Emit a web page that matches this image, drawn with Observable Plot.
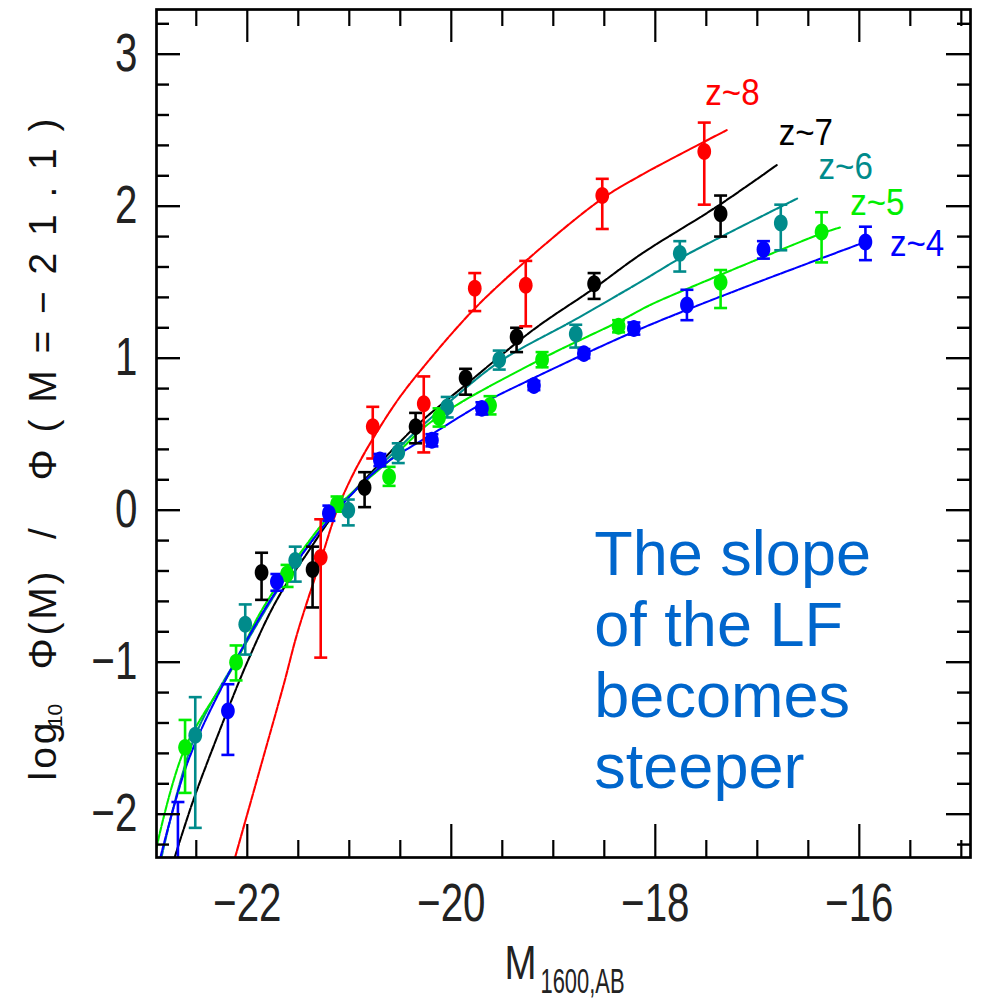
<!DOCTYPE html>
<html><head><meta charset="utf-8">
<script src="https://cdn.jsdelivr.net/npm/d3@7"></script>
<script src="https://cdn.jsdelivr.net/npm/@observablehq/plot@0.6"></script>
<style>body{margin:0;background:#fff} svg{display:block}</style>
</head><body><div id="chart"></div>
<script>
// ---- axis ticks ----
const xMajor = [-22, -20, -18, -16];
const xMinor = [-22.5, -21.5, -21, -20.5, -19.5, -19, -18.5, -17.5, -17, -16.5, -15.5, -15];
const yMajor = [-2, -1, 0, 1, 2, 3];
const yMinor = [-2.2, -1.8, -1.6, -1.4, -1.2, -0.8, -0.6, -0.4, -0.2, 0.2, 0.4, 0.6, 0.8,
                1.2, 1.4, 1.6, 1.8, 2.2, 2.4, 2.6, 2.8, 3.2];

// ---- series ----
const series = ["z~8", "z~7", "z~6", "z~5", "z~4"];
const colors = ["#ff0000", "#000000", "#008b8b", "#00ee00", "#0000ff"];

// points: [M, log phi ratio, lower, upper]
const z8Points = [[-21.28,-0.31,-0.97,-0.06],[-20.77,0.55,0.34,0.68],[-20.27,0.70,0.38,0.88],
  [-19.77,1.46,1.31,1.56],[-19.27,1.48,1.21,1.64],[-18.52,2.07,1.85,2.18],[-17.52,2.36,2.01,2.55]];
const z7Points = [[-21.86,-0.41,-0.59,-0.28],[-21.36,-0.39,-0.64,-0.24],[-20.85,0.15,0.02,0.25],
  [-20.35,0.55,0.44,0.64],[-19.86,0.87,0.76,0.93],[-19.36,1.14,1.04,1.20],[-18.60,1.49,1.39,1.56],
  [-17.36,1.95,1.80,2.07]];
const z6Points = [[-22.51,-1.48,-2.09,-1.23],[-22.02,-0.75,-0.95,-0.62],[-21.53,-0.33,-0.47,-0.24],
  [-21.01,0.0,-0.10,0.07],[-20.52,0.38,0.31,0.44],[-20.04,0.68,0.61,0.745],[-19.53,0.99,0.925,1.05],
  [-18.78,1.16,1.07,1.22],[-17.76,1.69,1.57,1.77],[-16.77,1.89,1.71,2.01]];
const z5Points = [[-22.61,-1.56,-1.86,-1.38],[-22.11,-1.0,-1.12,-0.89],[-21.61,-0.42,-0.505,-0.36],
  [-21.12,0.04,-0.01,0.09],[-20.61,0.22,0.16,0.285],[-20.12,0.61,0.55,0.67],[-19.62,0.69,0.63,0.75],
  [-19.11,0.99,0.94,1.04],[-18.36,1.21,1.17,1.25],[-17.36,1.50,1.33,1.58],[-16.37,1.83,1.63,1.96]];
const z4Points = [[-22.68,-2.45,-3.0,-1.92],[-22.19,-1.32,-1.61,-1.145],[-21.71,-0.47,-0.53,-0.42],
  [-21.20,-0.02,-0.07,0.03],[-20.70,0.33,0.29,0.37],[-20.19,0.46,0.42,0.50],[-19.70,0.67,0.63,0.71],
  [-19.19,0.82,0.79,0.85],[-18.70,1.03,1.0,1.06],[-18.21,1.195,1.155,1.235],[-17.69,1.35,1.25,1.45],
  [-16.94,1.715,1.655,1.77],[-15.94,1.765,1.645,1.865]];

// fitted curves: [M, value]
const z8Curve = [[-22.12,-2.285],[-21.87,-1.69],[-21.64,-1.14],[-21.51,-0.81],[-21.28,-0.33],[-21.12,0.0],
  [-20.96,0.24],[-20.76,0.48],[-20.53,0.72],[-20.30,0.92],[-19.78,1.32],[-19.26,1.645],[-18.54,2.04],
  [-18.15,2.20],[-17.30,2.50]];
const z7Curve = [[-22.71,-2.28],[-22.53,-1.91],[-22.30,-1.50],[-22.0,-1.0],[-21.71,-0.59],[-21.40,-0.27],
  [-21.12,0.0],[-20.85,0.2],[-20.35,0.55],[-19.85,0.83],[-19.19,1.19],[-18.60,1.46],[-18.15,1.68],
  [-17.39,2.0],[-16.81,2.27]];
const z6Curve = [[-22.84,-2.28],[-22.52,-1.5],[-22.06,-0.93],[-21.55,-0.37],[-21.12,0.0],[-20.5,0.42],
  [-20.04,0.70],[-19.52,0.98],[-18.77,1.26],[-18.1,1.52],[-17.75,1.66],[-16.61,2.05]];
const z5Curve = [[-22.89,-2.22],[-22.62,-1.58],[-22.13,-1.02],[-21.86,-0.66],[-21.50,-0.30],[-21.12,0.02],
  [-20.6,0.33],[-20.18,0.59],[-19.13,0.99],[-18.36,1.24],[-18.05,1.35],[-17.72,1.447],[-16.37,1.82],
  [-16.19,1.86]];
const z4Curve = [[-22.85,-2.28],[-22.58,-1.65],[-22.2,-1.1],[-21.8,-0.62],[-21.45,-0.28],[-21.12,0.0],
  [-20.7,0.28],[-20.19,0.5],[-19.7,0.7],[-19.19,0.87],[-18.54,1.075],[-18.05,1.22],[-17.2,1.447],
  [-15.94,1.765]];

// label anchors for each series: [M, value]
const labelPos = [[-17.51,2.74],[-16.79,2.48],[-16.40,2.257],[-16.09,2.016],[-15.70,1.75]];

const annotation = "The slope\nof the LF\nbecomes\nsteeper";
const annotationPos = [-18.598, -0.094];

// ---- build tables ----
const allPoints = [z8Points, z7Points, z6Points, z5Points, z4Points];
const allCurves = [z8Curve, z7Curve, z6Curve, z5Curve, z4Curve];
const points = allPoints.flatMap((arr, i) => arr.map(([M, v, lo, hi]) => ({series: series[i], M, v, lo, hi})));
const curves = allCurves.flatMap((arr, i) => arr.map(([M, v]) => ({series: series[i], M, v})));
const labels = labelPos.map(([M, v], i) => ({series: series[i], M, v}));

const W = 981, H = 999, mL = 156, mR = 11, mT = 9, mB = 142;
const innerW = W - mL - mR, innerH = H - mT - mB;

const capSymbol = {draw(ctx, size) { const r = Math.sqrt(size / Math.PI); ctx.moveTo(-r, 0); ctx.lineTo(r, 0); }};
const ellipseSymbol = {draw(ctx, size) {
  const r = Math.sqrt(size / Math.PI), a = r * 0.88, b = r * 1.08, k = 0.5523;
  ctx.moveTo(a, 0);
  ctx.bezierCurveTo(a, b * k, a * k, b, 0, b);
  ctx.bezierCurveTo(-a * k, b, -a, b * k, -a, 0);
  ctx.bezierCurveTo(-a, -b * k, -a * k, -b, 0, -b);
  ctx.bezierCurveTo(a * k, -b, a, -b * k, a, 0);
  ctx.closePath();
}};

const font = "Liberation Sans, Arial, sans-serif";
const yTitle = {frameAnchor: "left", text: d => d, rotate: -90, textAnchor: "middle", lineAnchor: "middle", fill: "#111"};

const plot = Plot.plot({
  width: W, height: H,
  marginLeft: mL, marginRight: mR, marginTop: mT, marginBottom: mB,
  style: {fontFamily: font, background: "#fff", color: "#000"},
  x: {domain: [-22.89, -14.91]},
  y: {domain: [-2.285, 3.294]},
  color: {domain: series, range: colors},
  marks: [
    // curves
    Plot.line(curves, {x: "M", y: "v", z: "series", stroke: "series", strokeWidth: 2.1,
      strokeDasharray: "6,1.5", curve: "catmull-rom", clip: true}),
    // error bars
    Plot.ruleX(points, {x: "M", y1: "lo", y2: "hi", stroke: "series", strokeWidth: 2.6, clip: true}),
    Plot.dot(points, {x: "M", y: "hi", symbol: capSymbol, r: 6.5, stroke: "series", strokeWidth: 2.6, fill: "none", clip: true}),
    Plot.dot(points, {x: "M", y: "lo", symbol: capSymbol, r: 6.5, stroke: "series", strokeWidth: 2.6, fill: "none", clip: true}),
    // points
    Plot.dot(points, {x: "M", y: "v", symbol: ellipseSymbol, r: 7.8, fill: "series", stroke: "none", clip: true}),
    // series labels
    Plot.text(labels, {x: "M", y: "v", text: "series", fill: "series", fontSize: 36, textAnchor: "start",
      lineAnchor: "middle"}),
    // annotation
    Plot.text([annotation], {x: annotationPos[0], y: annotationPos[1], text: d => d, fill: "#0066cc",
      fontSize: 63, lineHeight: 1.127, textAnchor: "start", lineAnchor: "top", fontFamily: font}),
    // frame
    Plot.frame({stroke: "#000", strokeWidth: 2.7}),
    // ticks: bottom & top
    Plot.tickX(xMajor, {x: d => d, insetTop: innerH - 33, strokeWidth: 2.2}),
    Plot.tickX(xMajor, {x: d => d, insetBottom: innerH - 33, strokeWidth: 2.2}),
    Plot.tickX(xMinor, {x: d => d, insetTop: innerH - 17, strokeWidth: 2.2}),
    Plot.tickX(xMinor, {x: d => d, insetBottom: innerH - 17, strokeWidth: 2.2}),
    // ticks: left & right
    Plot.tickY(yMajor, {y: d => d, insetRight: innerW - 24, strokeWidth: 2.4}),
    Plot.tickY(yMajor, {y: d => d, insetLeft: innerW - 24, strokeWidth: 2.4}),
    Plot.tickY(yMinor, {y: d => d, insetRight: innerW - 13, strokeWidth: 2.4}),
    Plot.tickY(yMinor, {y: d => d, insetLeft: innerW - 13, strokeWidth: 2.4}),
    // tick labels
    Plot.axisX(xMajor, {anchor: "bottom", tickSize: 0, tickPadding: 26, fontSize: 53, label: null,
      tickFormat: d3.format("d"), fill: "#222"}),
    Plot.axisY(yMajor, {anchor: "left", tickSize: 0, tickPadding: 19, fontSize: 53, label: null,
      tickFormat: d3.format("d"), fill: "#222"}),
    // x-axis title
    Plot.text(["M"], {frameAnchor: "bottom", text: d => d, textAnchor: "start", lineAnchor: "middle",
      dx: -59, dy: 105.5, fontSize: 49, fill: "#222"}),
    Plot.text(["1600,AB"], {frameAnchor: "bottom", text: d => d, textAnchor: "start", lineAnchor: "middle",
      dx: -23, dy: 124, fontSize: 35, fill: "#222"}),
    // y-axis title pieces
    Plot.text(["Φ(M=−21.1)"], {...yTitle, dx: -113, dy: -134, fontSize: 39}),
    Plot.text(["/"], {...yTitle, dx: -113, dy: 100, fontSize: 39}),
    Plot.text(["Φ(M)"], {...yTitle, dx: -113, dy: 187, fontSize: 39}),
    Plot.text(["log"], {...yTitle, dx: -113, dy: 318, fontSize: 39}),
    Plot.text(["10"], {...yTitle, dx: -101, dy: 282, fontSize: 21})
  ]
});

document.getElementById("chart").appendChild(plot);

const allTexts = [...plot.querySelectorAll("text")];
function byText(str) { return allTexts.filter(t => t.textContent === str); }
function squeezeFactor(els, f) {
  els.forEach(t => {
    const L = t.getComputedTextLength();
    t.setAttribute("textLength", (L * f).toFixed(1));
    t.setAttribute("lengthAdjust", "spacingAndGlyphs");
  });
}
function fitLength(els, len, adjust) {
  els.forEach(t => {
    t.setAttribute("textLength", len);
    t.setAttribute("lengthAdjust", adjust);
  });
}
squeezeFactor([...plot.querySelectorAll('g[aria-label="x-axis tick label"] text')], 0.76);
squeezeFactor([...plot.querySelectorAll('g[aria-label="y-axis tick label"] text')], 0.76);
series.forEach(s => squeezeFactor(byText(s), 0.92));
fitLength(byText("M"), 32, "spacingAndGlyphs");
fitLength(byText("1600,AB"), 84, "spacingAndGlyphs");
fitLength(byText("Φ(M=−21.1)"), 362, "spacing");
fitLength(byText("Φ(M)"), 98, "spacing");
fitLength(byText("log"), 58, "spacing");
</script>
</body></html>
